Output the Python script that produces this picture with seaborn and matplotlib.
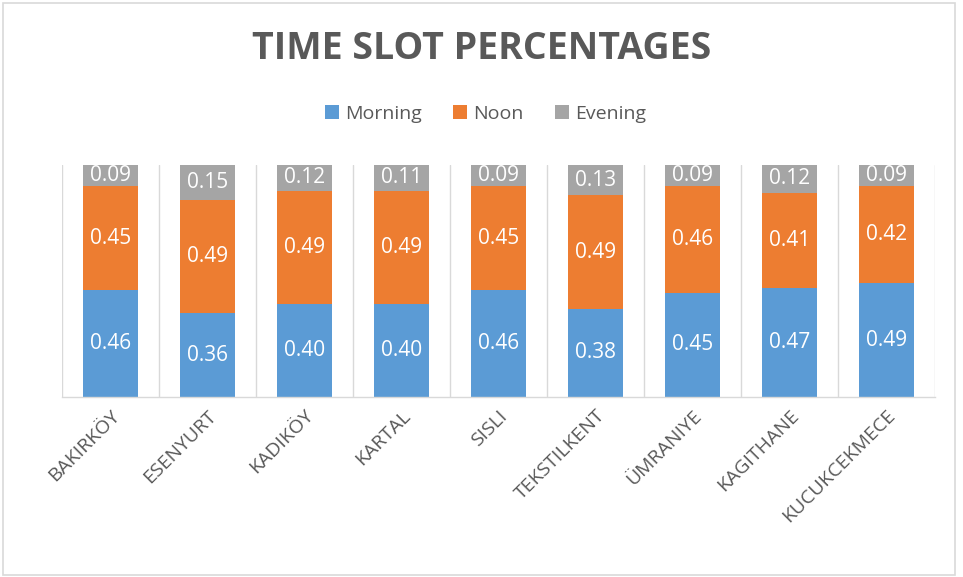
import numpy as np
import pandas as pd
import seaborn as sns
import matplotlib.pyplot as plt
from matplotlib.patches import Rectangle, Patch

districts = ["BAKIRKÖY", "ESENYURT", "KADIKÖY", "KARTAL", "SISLI",
             "TEKSTILKENT", "ÜMRANIYE", "KAGITHANE", "KUCUKCEKMECE"]
morning = [0.46, 0.36, 0.40, 0.40, 0.46, 0.38, 0.45, 0.47, 0.49]
noon = [0.45, 0.49, 0.49, 0.49, 0.45, 0.49, 0.46, 0.41, 0.42]
evening = [0.09, 0.15, 0.12, 0.11, 0.09, 0.13, 0.09, 0.12, 0.09]

slots = ["Morning", "Noon", "Evening"]
colors = {"Morning": "#5B9BD5", "Noon": "#ED7D31", "Evening": "#A5A5A5"}
text_col = "#595959"
line_col = "#D9D9D9"

sns.set_theme(style="white")
plt.rcParams["font.family"] = ["Open Sans", "DejaVu Sans"]

df = pd.DataFrame({"District": districts, "Morning": morning,
                   "Noon": noon, "Evening": evening})

fig = plt.figure(figsize=(9.63, 5.77), dpi=100)
ax = fig.add_axes([0.0644, 0.312, 0.9066, 0.402])

bottom = np.zeros(len(districts))
for slot in slots:
    sns.barplot(data=df, x="District", y=slot, color=colors[slot],
                width=0.56, bottom=bottom, ax=ax, saturation=1,
                order=districts, linewidth=0)
    cont = ax.containers[-1]
    ax.bar_label(cont, labels=[f"{v:.2f}" for v in df[slot]],
                 label_type="center", color="white", fontsize=15)
    bottom = bottom + df[slot].to_numpy()

ax.set_ylim(0, 1.0)
ax.set_xlim(-0.5, len(districts) - 0.5)
ax.set_xlabel("")
ax.set_ylabel("")
ax.set_yticks([])
ax.set_xticks(range(len(districts)))
ax.set_xticklabels(districts, rotation=45, ha="right", va="top",
                   rotation_mode="anchor", fontsize=14, color=text_col)
ax.tick_params(axis="x", length=0, pad=7)
ax.set_xticks(np.arange(-0.5, len(districts), 1), minor=True)
ax.grid(which="minor", axis="x", color=line_col, linewidth=1)
ax.set_axisbelow(True)
for s in ["top", "left", "right"]:
    ax.spines[s].set_visible(False)
ax.spines["bottom"].set_color(line_col)
ax.spines["bottom"].set_linewidth(1)

fig.text(0.5, 0.915, "TIME SLOT PERCENTAGES", ha="center", va="center",
         fontsize=27, fontweight="bold", color=text_col)

handles = [Patch(facecolor=colors[s], edgecolor="none") for s in slots]
fig.legend(handles, slots, loc="center", bbox_to_anchor=(0.504, 0.803),
           ncol=3, frameon=False, fontsize=14, labelcolor=text_col,
           handlelength=0.75, handleheight=0.75, handletextpad=0.3,
           columnspacing=1.6)

fig.patches.append(Rectangle((0.003, 0.003), 0.989, 0.992, transform=fig.transFigure,
                             fill=False, edgecolor=line_col, linewidth=1.2))

fig.savefig("out.png", dpi=100)
